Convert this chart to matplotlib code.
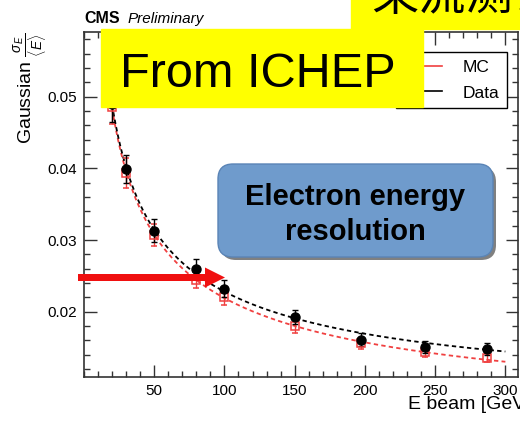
import numpy as np
import matplotlib
matplotlib.use("Agg")
import matplotlib.pyplot as plt
from matplotlib.lines import Line2D
from matplotlib.patches import Rectangle, FancyBboxPatch, FancyArrow
from matplotlib.transforms import Affine2D
from matplotlib.ticker import MultipleLocator

plt.rcParams['font.family'] = ['Liberation Sans', 'DejaVu Sans']
plt.rcParams['mathtext.fontset'] = 'custom'
plt.rcParams['mathtext.rm'] = 'Liberation Sans'
plt.rcParams['mathtext.it'] = 'Liberation Sans:italic'

# beam energies [GeV] and gaussian resolution sigma_E/<E>
energy = [20, 30, 50, 80, 100, 150, 197, 243, 287]
data_res = [0.0489, 0.0399, 0.0313, 0.0260, 0.0232, 0.0193, 0.0161, 0.0151, 0.0148]
data_err = [0.0024, 0.0020, 0.0016, 0.0013, 0.0012, 0.0010, 0.0009, 0.0008, 0.0008]
mc_res = [0.0485, 0.0393, 0.0307, 0.0244, 0.0221, 0.0180, 0.0156, 0.0144, 0.0136]
mc_err = [0.0023, 0.0021, 0.0015, 0.0011, 0.0012, 0.0010, 0.0008, 0.0007, 0.0006]

xticks = [50, 100, 150, 200, 250, 300]
yticks = [0.02, 0.03, 0.04, 0.05]

RED = '#f04040'
W, H = 520, 422


def fit_curve(e, res):
    # sigma^2 = S^2/E + C^2 -> straight line in 1/E
    slope, icpt = np.polyfit(1.0 / np.asarray(e, float), np.asarray(res) ** 2, 1)
    ee = np.linspace(e[0], 300, 200)
    return ee, np.sqrt(slope / ee + icpt)


fig = plt.figure(figsize=(W / 100, H / 100), dpi=100)
ax = fig.add_axes([84 / W, 1 - 377 / H, 434 / W, 345 / H])

ee, ff = fit_curve(energy, mc_res)
ax.plot(ee, ff, color=RED, lw=1.3, ls=(0, (2.4, 1.8)))
ee, ff = fit_curve(energy, data_res)
ax.plot(ee, ff, color='black', lw=1.3, ls=(0, (2.4, 1.8)))

ax.errorbar(energy, mc_res, yerr=mc_err, fmt='s', ms=5.5, mfc='none', mec=RED,
            mew=1.1, ecolor=RED, elinewidth=1.0, capsize=2.5, capthick=1.0)
ax.errorbar(energy, data_res, yerr=data_err, fmt='o', ms=6.5, color='black',
            elinewidth=1.0, capsize=2.5, capthick=1.0)

ax.set_xlim(0, 309)
ax.set_ylim(0.0109, 0.0590)
ax.set_xticks(xticks)
ax.set_yticks(yticks)
ax.set_yticklabels(['%.2f' % v for v in yticks])
ax.xaxis.set_minor_locator(MultipleLocator(10))
ax.yaxis.set_minor_locator(MultipleLocator(0.002))
ax.tick_params(which='both', direction='in', top=True, right=True,
               width=1.0, labelsize=11, color='#333333')
ax.tick_params(which='major', length=9, pad=5)
ax.tick_params(which='minor', length=4.5)
for s in ax.spines.values():
    s.set_linewidth(1.2)
    s.set_color('#333333')

ax.set_ylabel(r'Gaussian $\frac{\sigma_E}{\langle E\rangle}$', fontsize=14, loc='top')
ax.yaxis.set_label_coords(-0.078, 1.0)
ax.set_xlabel('E beam [GeV]', fontsize=14, loc='right')
ax.xaxis.set_label_coords(1.03, -0.055)

handles = [Line2D([], [], color=RED, lw=1.2), Line2D([], [], color='black', lw=1.2)]
leg = ax.legend(handles, ['MC', 'Data'], loc='upper right',
                bbox_to_anchor=(0.9747, 0.942), borderaxespad=0, fontsize=12.5,
                fancybox=False, edgecolor='black', framealpha=1,
                handlelength=2.2, handletextpad=1.2, labelspacing=0.6, borderpad=0.45)
leg.get_frame().set_linewidth(1.0)

# CMS label above the frame
fig.text(84 / W, 1 - 23 / H, 'CMS', fontsize=11.5, fontweight='bold')
fig.text(128 / W, 1 - 23 / H, 'Preliminary', fontsize=11, style='italic')

# pixel coordinates, origin at top-left
px = Affine2D().scale(1 / W, -1 / H).translate(0, 1) + fig.transFigure

fig.add_artist(Rectangle((351, -5), 180, 34, transform=px, color='#ffff00', zorder=5))
fig.text(371, 10, '束流测试', transform=px, fontsize=34, zorder=6,
         family=['Noto Sans CJK SC', 'DejaVu Sans'], va='baseline')

fig.add_artist(Rectangle((101, 29), 322, 78, transform=px, color='#ffff00', zorder=5))
fig.text(120, 87, 'From ICHEP', transform=px, fontsize=35, zorder=6, va='baseline')

fig.add_artist(FancyBboxPatch((221, 167), 275, 93, transform=px,
                              boxstyle='round,pad=0,rounding_size=15',
                              fc='#808080', ec='none', zorder=5))
fig.add_artist(FancyBboxPatch((218, 164), 275, 93, transform=px,
                              boxstyle='round,pad=0,rounding_size=15',
                              fc='#6f9bcc', ec='#5a84b6', lw=1.0, zorder=6))
fig.text(355, 205, 'Electron energy', transform=px, fontsize=21, fontweight='bold',
         ha='center', va='baseline', zorder=7)
fig.text(355, 240, 'resolution', transform=px, fontsize=21, fontweight='bold',
         ha='center', va='baseline', zorder=7)

fig.add_artist(FancyArrow(78, 277.5, 147, 0, width=7, head_width=20, head_length=20,
                          length_includes_head=True, transform=px,
                          color='#f01010', lw=0, zorder=8))

fig.savefig('out.png', dpi=100)
